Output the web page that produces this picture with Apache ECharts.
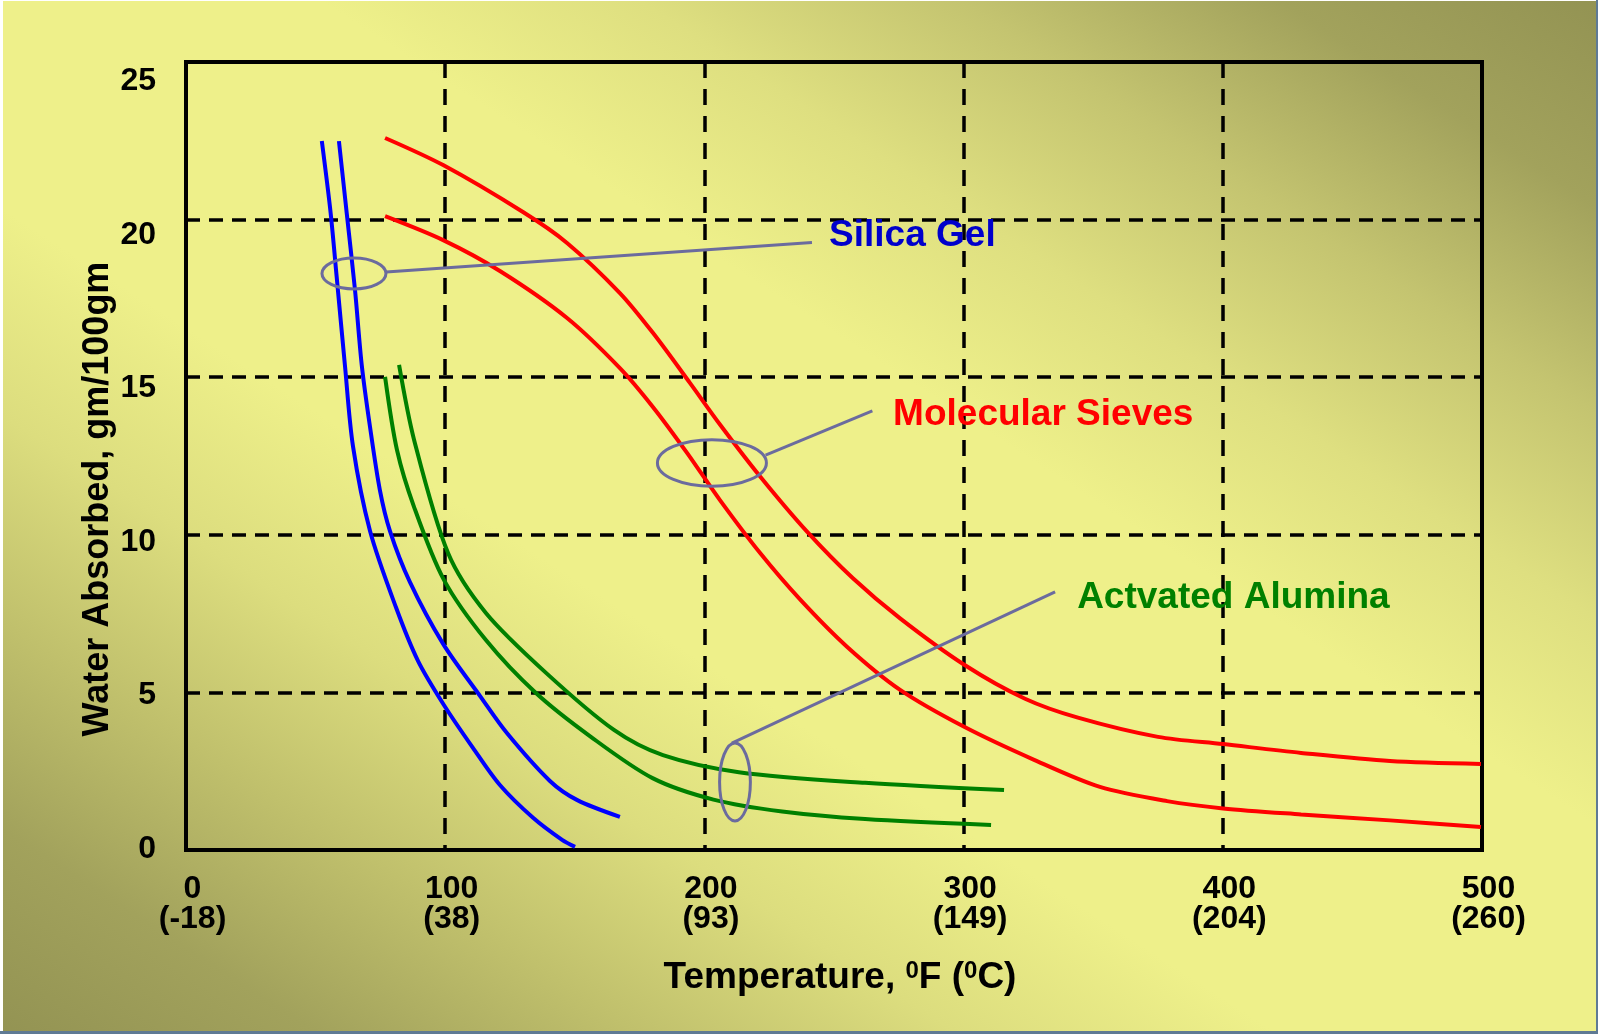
<!DOCTYPE html>
<html>
<head>
<meta charset="utf-8">
<script src="https://cdn.jsdelivr.net/npm/echarts@6.0.0/dist/echarts.min.js"></script>
<style>
html,body{margin:0;padding:0;width:1598px;height:1034px;overflow:hidden;background:#fff}
#c{width:1598px;height:1034px}
</style>
</head>
<body>
<div id="c"></div>
<script>
// ---------- data ----------
const xTicksF = [0, 100, 200, 300, 400, 500];
const xTicksC = ['-18', '38', '93', '149', '204', '260'];
const yTicks = [0, 5, 10, 15, 20, 25];

const silicaGelA = [[52.4,22.49],[55.8,20.21],[58.1,18.21],[61.3,15.39],[64.4,12.82],[71.0,10.12],[81.0,7.70],[89.5,6.00],[99.5,4.60],[110.7,3.24],[121.1,2.06],[133.9,1.02],[145.1,0.32],[150.1,0.10]];
const silicaGelB = [[59.0,22.49],[62.0,20.21],[65.2,17.77],[67.8,15.39],[71.0,13.42],[74.8,11.42],[78.7,10.12],[86.4,8.50],[99.2,6.54],[113.4,4.89],[123.8,3.71],[140.4,2.19],[150.8,1.59],[167.4,1.05]];
const aluminaA = [[76.8,15.01],[81.4,12.69],[88.0,10.88],[99.5,8.57],[115.7,6.66],[135.0,4.98],[156.2,3.59],[180.0,2.28],[203.5,1.60],[230.0,1.22],[262.0,0.98],[310.6,0.79]];
const aluminaB = [[82.2,15.39],[88.0,13.01],[101.1,9.42],[115.7,7.52],[138.9,5.62],[165.1,3.81],[184.0,3.01],[213.3,2.47],[262.0,2.13],[315.6,1.90]];
const sievesA = [[76.8,22.59],[99.2,21.73],[130.0,20.24],[147.0,19.26],[167.4,17.67],[180.2,16.40],[194.4,14.82],[206.0,13.50],[221.5,11.85],[239.6,10.10],[257.3,8.62],[275.5,7.35],[300.4,5.87],[323.7,4.80],[344.1,4.20],[375.0,3.59],[400.1,3.36],[430.2,3.08],[464.5,2.82],[499.6,2.73]];
const sievesB = [[76.8,20.11],[99.2,19.35],[121.1,18.37],[147.0,16.88],[167.4,15.29],[180.2,14.05],[193.3,12.60],[206.0,11.10],[221.5,9.42],[236.9,7.95],[255.0,6.45],[275.5,5.08],[300.4,3.90],[327.2,2.86],[352.6,2.00],[378.5,1.55],[400.1,1.32],[430.2,1.13],[464.5,0.94],[499.6,0.73]];

// ---------- annotations (callouts placed in data coordinates) ----------
const annotations = [
  {label:'Silica Gel',       color:'#0000cc', center:[64.8,18.29],  rx:32,   ry:15.5, from:[77.2,18.34],  to:[241.5,19.27], textAt:[248.1,19.50]},
  {label:'Molecular Sieves', color:'#ff0000', center:[202.9,12.28], rx:54.5, ry:23.3, from:[223.6,12.53], to:[264.8,13.93], textAt:[272.8,13.80]},
  {label:'Actvated Alumina', color:'#008000', center:[211.8,2.16],  rx:15.4, ry:39,   from:[210.6,3.39],  to:[335.3,8.19],  textAt:[343.8,8.00]}
];

const FONT = '"Liberation Sans", Arial, Helvetica, sans-serif';
const BLUE = '#0000ff', RED = '#ff0000', GREEN = '#008000';
const CALLOUT = '#6b6b9e';

const chart = echarts.init(document.getElementById('c'), null, {renderer:'canvas'});

function line(name, data, color) {
  return {
    type:'line', name, data, showSymbol:false, smooth:0.3, z:3,
    lineStyle:{color, width:4}, itemStyle:{color}, emphasis:{disabled:true}
  };
}

const bg = new echarts.graphic.LinearGradient(0.205, 1.205, 0.795, -0.205, [
  {offset:0.00, color:'#939353'},
  {offset:0.10, color:'#a2a25c'},
  {offset:0.20, color:'#c0c06c'},
  {offset:0.30, color:'#dcdd7e'},
  {offset:0.40, color:'#eef08a'},
  {offset:0.60, color:'#eef08a'},
  {offset:0.70, color:'#dedf80'},
  {offset:0.80, color:'#c4c470'},
  {offset:0.90, color:'#a2a25c'},
  {offset:1.00, color:'#939353'}
]);

const option = {
  animation:false,
  backgroundColor:bg,
  grid:{left:186, right:116, top:62, bottom:184, show:true, borderColor:'#000', borderWidth:4,
        backgroundColor:'transparent', outerBoundsMode:'none', containLabel:false},
  xAxis:{
    type:'value', min:0, max:500, interval:100,
    axisLine:{show:true, onZero:false, lineStyle:{color:'#000', width:4}},
    axisTick:{show:false},
    splitLine:{show:true, lineStyle:{color:'#000', width:3.5, type:[16,11]}},
    axisLabel:{
      color:'#000', fontSize:32, fontWeight:'bold', fontFamily:FONT, lineHeight:30,
      margin:24, padding:[0,0,0,13],
      formatter:function(v){ const i = xTicksF.indexOf(v); return v + '\n(' + xTicksC[i] + ')'; }
    },
    name:'Temperature, {s|0}F ({s|0}C)',
    nameLocation:'middle', nameGap:109,
    nameTextStyle:{
      color:'#000', fontSize:37, fontWeight:'bold', fontFamily:FONT, lineHeight:37, padding:[0,0,0,12],
      rich:{s:{fontSize:24, fontWeight:'bold', fontFamily:FONT, color:'#000', lineHeight:24, verticalAlign:'top'}}
    }
  },
  yAxis:[{
    type:'value', min:0, max:25, interval:5,
    axisLine:{show:true, onZero:false, lineStyle:{color:'#000', width:4}},
    axisTick:{show:false},
    axisLabel:{show:false},
    splitLine:{show:true, lineStyle:{color:'#000', width:3.5, type:[14,9]}},
    name:'Water Absorbed, gm/100gm',
    nameLocation:'middle', nameGap:70,
    nameTextStyle:{color:'#000', fontSize:36, fontWeight:'bold', fontFamily:FONT, lineHeight:36, padding:[0,86,0,0]}
  },{
    // label-only axis: the reference's tick labels sit on a slightly tighter spacing than its frame
    type:'value', min:-0.04, max:25.63, position:'left', offset:0,
    axisLine:{show:false}, axisTick:{show:false}, splitLine:{show:false},
    axisLabel:{customValues:yTicks, color:'#000', fontSize:32, fontWeight:'bold', fontFamily:FONT, margin:30,
               formatter:function(v){ return String(v); }}
  }],
  series:[
    line('Silica Gel A', silicaGelA, BLUE),
    line('Silica Gel B', silicaGelB, BLUE),
    line('Alumina A', aluminaA, GREEN),
    line('Alumina B', aluminaB, GREEN),
    line('Sieves A', sievesA, RED),
    line('Sieves B', sievesB, RED)
  ]
};
chart.setOption(option);

function px(p){ return chart.convertToPixel({seriesIndex:0}, p); }

const g = [];
annotations.forEach(function(a){
  const c = px(a.center), f = px(a.from), t = px(a.to), tx = px(a.textAt);
  g.push({type:'ellipse', z:10, shape:{cx:c[0], cy:c[1], rx:a.rx, ry:a.ry},
          style:{fill:'none', stroke:CALLOUT, lineWidth:3}});
  g.push({type:'line', z:10, shape:{x1:f[0], y1:f[1], x2:t[0], y2:t[1]},
          style:{stroke:CALLOUT, lineWidth:3}});
  g.push({type:'text', z:1, x:tx[0], y:tx[1],
          style:{text:a.label, fill:a.color, font:'bold 37px ' + FONT,
                 textAlign:'left', textVerticalAlign:'middle', align:'left', verticalAlign:'middle'}});
});
// thin slide edge
g.push({type:'rect', z:20, shape:{x:0, y:0, width:3, height:1034}, style:{fill:'#ffffff'}});
g.push({type:'rect', z:20, shape:{x:0, y:0, width:1598, height:1}, style:{fill:'#ffffff'}});
g.push({type:'rect', z:20, shape:{x:0, y:1031, width:1598, height:3}, style:{fill:'#5f7a94'}});
g.push({type:'rect', z:20, shape:{x:1596, y:0, width:2, height:1034}, style:{fill:'#5f7a94'}});

chart.setOption({graphic:{elements:g}});
</script>
</body>
</html>
